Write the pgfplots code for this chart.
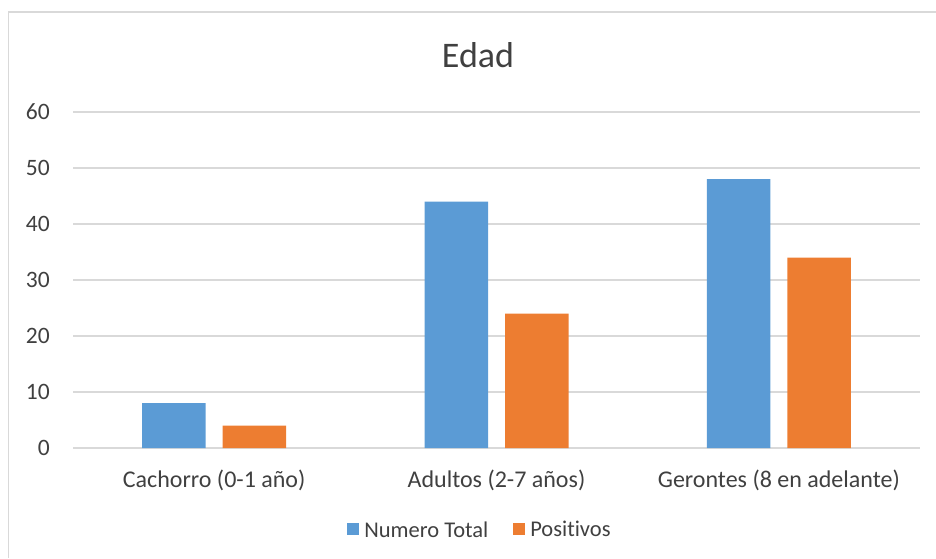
\documentclass[border=0pt]{standalone}
\usepackage{pgfplots}
\pgfplotsset{compat=1.18}
\usepackage{fontspec}
\setmainfont{Carlito}[Ligatures={NoCommon}]

\definecolor{serieA}{HTML}{5B9BD5}
\definecolor{serieB}{HTML}{ED7D31}
\definecolor{rejilla}{HTML}{D9D9D9}
\definecolor{texto}{HTML}{404040}

\begin{document}
\begin{tikzpicture}[x=1pt,y=1pt]
  \useasboundingbox (0,0) rectangle (936,558);
  % chart frame (only top and left edges fall inside the picture)
  \draw[rejilla, line width=1.2pt] (8.5,0) -- (8.5,546) -- (940,546);
  % title
  \node[anchor=base, text=texto, font=\fontsize{36}{40}\selectfont, inner sep=0pt] at (478,490) {Edad};
  \begin{axis}[
    at={(73pt,110pt)}, anchor=south west,
    scale only axis,
    width=847pt, height=336pt,
    xmin=-0.5, xmax=2.5,
    ymin=0, ymax=60,
    ytick={0,10,...,60},
    xtick=data,
    xticklabels={Cachorro (0-1 año), Adultos (2-7 años), Gerontes (8 en adelante)},
    ybar=17pt, bar width=63.5pt,
    axis line style={draw=none},
    major tick length=0pt,
    ymajorgrids, grid style={rejilla, line width=1.2pt},
    /pgf/number format/assume math mode=true,
    yticklabel style={text=texto, font=\fontsize{23.5}{26}\selectfont, anchor=east, inner sep=0pt, xshift=-23pt},
    xticklabel style={text=texto, font=\fontsize{24}{26}\selectfont, anchor=base, inner sep=0pt, yshift=-39pt},
    legend columns=2,
    legend style={at={(0.4793,-0.244)}, anchor=center, draw=none, fill=none,
      font=\fontsize{22.5}{26}\selectfont, text=texto,
      /tikz/every even column/.append style={column sep=25pt},
      nodes={inner sep=0pt}},
    legend image code/.code={\fill[#1] (0pt,-5pt) rectangle (12pt,7pt);},
    legend cell align=left,
  ]
    \addplot[fill=serieA, draw=none] coordinates {(0,8) (1,44) (2,48)};
    \addplot[fill=serieB, draw=none] coordinates {(0,4) (1,24) (2,34)};
    \legend{\hspace{5pt}Numero Total, \hspace{5pt}Positivos}
  \end{axis}
\end{tikzpicture}
\end{document}
